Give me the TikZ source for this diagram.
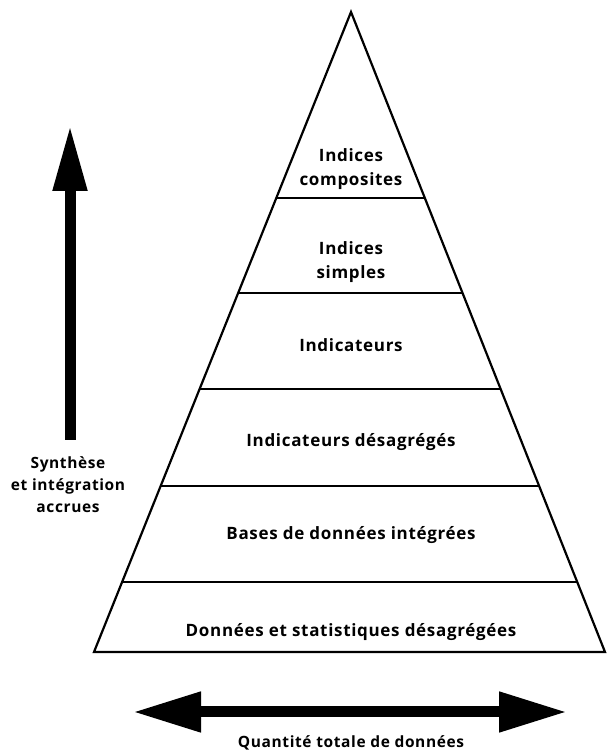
\documentclass[tikz,border=0pt]{standalone}
\usepackage{fontspec}
\setmainfont{Open Sans}[LetterSpace=4]
\usepackage{tikz}
\usetikzlibrary{calc}
\usetikzlibrary{arrows.meta}
\tikzset{lvltext/.style={font=\bfseries\fontsize{17}{24}\selectfont, align=center, inner sep=0pt},
         sidetext/.style={font=\bfseries\fontsize{15.5}{22}\selectfont, align=center, inner sep=0pt},
         bigarrow/.style={line width=11pt}}
\newcommand{\lvlline}[3]{\draw[line width=1.8pt] ($(bl)!#1!(apex)$) coordinate (#2) -- ($(br)!#1!(apex)$) coordinate (#3);}
\newcommand{\lvlnode}[4]{\node[lvltext] (#1) at ( #2 , #3 ) {#4};}

\begin{document}
\begin{tikzpicture}[x=1pt,y=1pt]
        \useasboundingbox (0,0) rectangle (610,754);
        % pyramid
        \coordinate (apex) at (351,742);
        \coordinate (bl) at (94,102);
        \coordinate (br) at (605,102);
        \draw[line width=2.2pt, line join=miter] (apex) -- (bl) -- (br) -- cycle;
        \lvlline{0.7094}{l5a}{l5b}
        \lvlline{0.5609}{l4a}{l4b}
        \lvlline{0.4109}{l3a}{l3b}
        \lvlline{0.2594}{l2a}{l2b}
        \lvlline{0.1094}{l1a}{l1b}

        \lvlnode{composites}{351}{585}{Indices\\composites}
        \lvlnode{simples}{351}{492}{Indices\\simples}
        \lvlnode{indicateurs}{351}{409}{Indicateurs}
        \lvlnode{desagreges}{351}{312}{Indicateurs désagrégés}
        \lvlnode{bases}{351}{219}{Bases de données intégrées}
        \lvlnode{donnees}{351}{122}{Données et statistiques désagrégées}

        % arrows
        \coordinate (synthBottom) at (70,314);
        \coordinate (synthTop) at (70,629);
        \draw[bigarrow, -{Triangle[length=66pt,width=32pt]}] (synthBottom) -- (synthTop);
        \node[sidetext] (synthese) at (68,269) {Synthèse\\et intégration\\accrues};

        \coordinate (qtyLeft) at (133,42);
        \coordinate (qtyRight) at (567,42);
        \draw[bigarrow, {Triangle[length=68pt,width=38pt]}-{Triangle[length=68pt,width=38pt]}] (qtyLeft) -- (qtyRight);
        \node[sidetext] (quantite) at (351,11) {Quantité totale de données};
\end{tikzpicture}
\end{document}
